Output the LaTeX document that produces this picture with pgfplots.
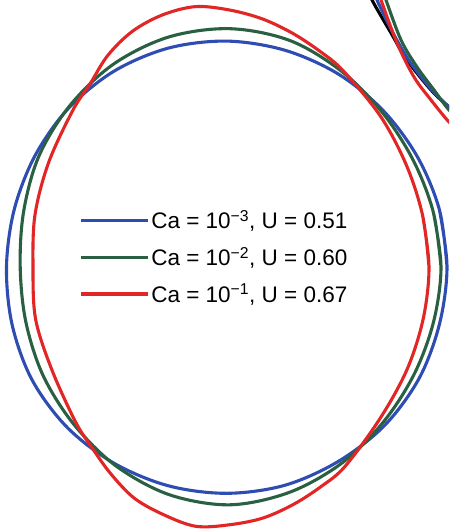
\documentclass[border=0pt]{standalone}
\usepackage{fontspec}
\setmainfont{Liberation Sans}
\usepackage{pgfplots}
\pgfplotsset{compat=1.18}

\definecolor{cablue}{RGB}{46,77,178}
\definecolor{cagreen}{RGB}{42,96,66}
\definecolor{cared}{RGB}{226,38,38}

\tikzset{drop/.style={line width=3.1pt, smooth, tension=0.55}}

\begin{document}
\begin{tikzpicture}
\begin{axis}[
  scale only axis,
  width=449pt, height=529pt,
  xmin=0, xmax=449, ymin=0, ymax=529,
  y dir=reverse,
  axis line style={draw=none},
  xtick=\empty, ytick=\empty,
  clip=true,
  legend cell align=left,
  legend image code/.code={\draw[#1, line width=3.1pt] (0pt,0pt) -- (67pt,0pt);},
  legend style={
    at={(axis cs:79,257)}, anchor=west,
    draw=none, fill=none, inner sep=0pt,
    font=\fontsize{22.5}{26}\selectfont,
    row sep=13pt,
    /tikz/every even column/.append style={column sep=3.5pt},
  },
]
% neighbouring drop (partly visible in the corner)
\addplot[black, drop, forget plot] coordinates {
  (369,-10) (372,0) (391,33) (407,60) (431,90) (449,107) (460,116)
};
\addplot[cablue, drop, forget plot] coordinates {
  (374,-10) (377,0) (393,33) (410,62) (431,89) (449,107) (460,116)
};
\addplot[cared, drop, forget plot] coordinates {
  (378,-10) (381,0) (397,43) (414,77) (431,100) (449,122) (460,131)
};
\addplot[cagreen, drop, forget plot] coordinates {
  (383,-10) (386,0) (401,40) (417,67) (434,90) (449,110) (460,119)
};

% Ca = 1e-3
\addplot[cablue, drop] coordinates {
  (447,267) (439.5,210.1) (417.5,157) (383.3,110.7) (338.4,74.1)
  (285.1,50.3) (227,41.1) (168.4,48.1) (114,71.2) (68.4,108.4)
  (34.8,156.1) (14.1,210) (6.5,267) (12.1,324.6) (31.9,379.6)
  (66.9,427.1) (113.8,463.1) (168.4,485.8) (227,493.3) (285.4,485.1)
  (339,461) (385,425) (419.3,378) (439.5,323.9)
  (447,267) (439.5,210.1)
};
\addlegendentry{Ca = 10\textsuperscript{−3}, U = 0.51}

% Ca = 1e-2
\addplot[cagreen, drop] coordinates {
  (441,267) (433.4,212.5) (413.6,161) (383.3,113.7) (342.6,72.1)
  (290.6,40.8) (230,28.7) (168.4,37.1) (113.1,64.4) (69.3,106.3)
  (38.7,156.6) (23.6,211.7) (20.2,267) (25.8,321.7) (42.9,375.1)
  (73.3,423.7) (115.4,465.5) (169,494.6) (230,504.8) (290.3,492)
  (342.8,462.4) (384.1,421.1) (414.5,373.5) (433.6,321.6)
  (441,267) (433.4,212.5)
};
\addlegendentry{Ca = 10\textsuperscript{−2}, U = 0.60}

% Ca = 1e-1
\addplot[cared, drop] coordinates {
  (429,267) (422.6,215.4) (406.4,165.2) (380.6,116.4) (343.3,70.9)
  (319.5,51) (292.6,33.3) (262.6,19) (230,10.1) (195.7,6.6)
  (162.5,14.9) (132.4,31.3) (107.8,55.4) (89.8,84.3) (73,110)
  (48.7,162.3) (35,214.8) (33,267) (35.6,319.1) (51.9,369.9)
  (75.4,421.6) (91.7,447.3) (110.7,473.7) (134.3,498.2) (163.6,514.7)
  (195.9,526.3) (230,524.7) (263,518) (293.6,504.3) (321,486.6)
  (345.1,466.3) (380.6,417.6) (407.1,369.3) (423.2,318.8)
  (429,267) (422.6,215.4)
};
\addlegendentry{Ca = 10\textsuperscript{−1}, U = 0.67}
\end{axis}
\end{tikzpicture}
\end{document}
